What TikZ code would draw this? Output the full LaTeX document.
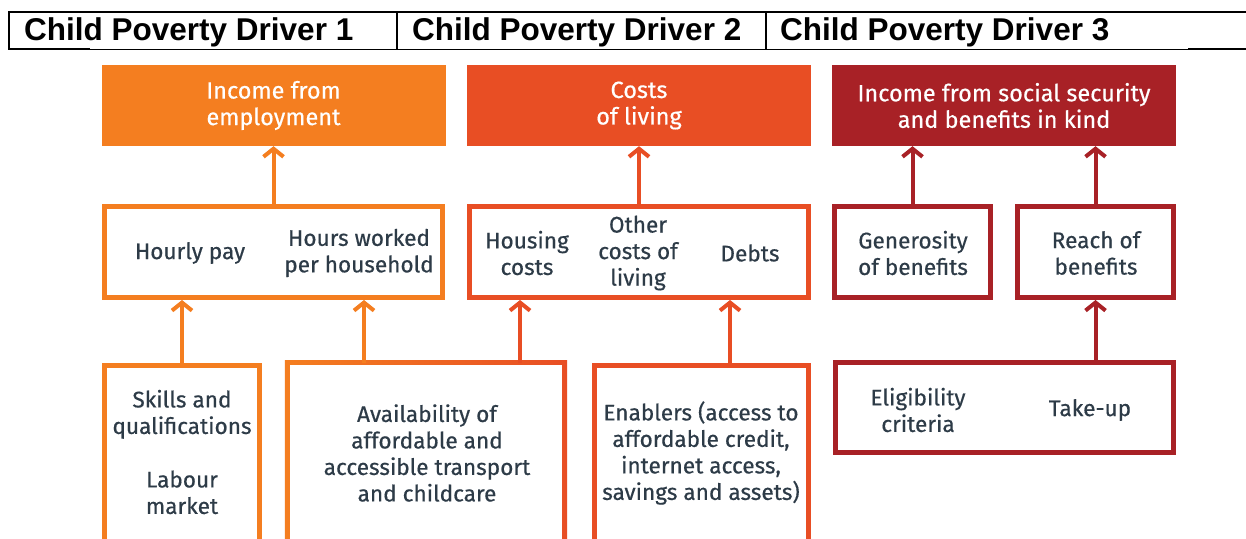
\documentclass[tikz,border=0pt]{standalone}
\usepackage{fontspec}
\setmainfont{Fira Sans}[FakeBold=0.5]
\newfontfamily\hdrfont{Liberation Sans}
\usetikzlibrary{arrows.meta}
\definecolor{cA}{HTML}{F47E20}
\definecolor{cB}{HTML}{E84E24}
\definecolor{cC}{HTML}{A82126}
\definecolor{txt}{HTML}{2D3B47}
\begin{document}
\begin{tikzpicture}[x=1pt,y=-1pt,
  hdr/.style={anchor=base west,inner sep=0pt,font=\hdrfont\bfseries\fontsize{31.5}{35}\selectfont},
  headbox/.style={minimum width=344pt,minimum height=81pt,inner sep=0pt,text=white,align=center,
     font=\fontsize{23.5}{26.5}\selectfont},
  outbox/.style={line width=5pt,inner sep=0pt},
  lbl/.style={align=center,text=txt,inner sep=0pt,font=\fontsize{22.6}{26.5}\selectfont},
  arr/.style={line width=4pt,-{Straight Barb[length=8pt,width=20pt,line width=4pt]}}
]
\useasboundingbox (0,0) rectangle (1246,538);
\clip (0,0) rectangle (1246,538);
\fill[white] (0,0) rectangle (1246,538);

% header table
\draw[line width=2pt] (9,12) -- (1246,12);
\draw[line width=2pt] (9,11) -- (9,50);
\draw[line width=1.5pt] (397,12) -- (397,49);
\draw[line width=1.5pt] (766,12) -- (766,49);
\draw[line width=1pt] (9,49) -- (1246,49);
\draw[line width=2pt] (8,49) -- (90,49);
\draw[line width=2pt] (1188,49) -- (1246,49);
\node[hdr] (h1) at (24,40) {Child Poverty Driver 1};
\node[hdr] (h2) at (412,40) {Child Poverty Driver 2};
\node[hdr] (h3) at (780,40) {Child Poverty Driver 3};

% top row
\node[headbox,fill=cA] (topA) at (273.5,105.5) {Income from\\employment};
\node[headbox,fill=cB] (topB) at (639,105.5) {Costs\\of living};
\node[headbox,fill=cC] (topC) at (1004,105.5) {Income from social security\\and benefits in kind};

% middle row
\node[outbox,draw=cA,minimum width=338pt,minimum height=91pt] (midA) at (273.5,252) {};
\node[outbox,draw=cB,minimum width=339pt,minimum height=91pt] (midB) at (639,252) {};
\node[outbox,draw=cC,minimum width=156pt,minimum height=91pt] (midC1) at (912.5,252) {};
\node[outbox,draw=cC,minimum width=156pt,minimum height=91pt] (midC2) at (1095.5,252) {};

\node[lbl] (hourly) at (190,253) {Hourly pay};
\node[lbl] (hours) at (359,253) {Hours worked\\per household};
\node[lbl] (housing) at (527,253) {Housing\\costs};
\node[lbl] (other) at (638,253) {Other\\costs of\\living};
\node[lbl] (debts) at (750,253) {Debts};
\node[lbl] (gen) at (913,253) {Generosity\\of benefits};
\node[lbl] (reach) at (1096,253) {Reach of\\benefits};

% bottom row
\node[outbox,draw=cA,minimum width=155pt,minimum height=300pt,anchor=north] (botA1) at (182,362.5) {};
\node[inner sep=0pt,minimum width=282pt,minimum height=300pt,anchor=north] (botA2) at (426,360) {};
\shade[left color=cA,right color=cB] (botA2.north west) rectangle (botA2.south east);
\fill[white] ([shift={(5pt,-5pt)}]botA2.north west) rectangle ([shift={(-5pt,5pt)}]botA2.south east);
\node[outbox,draw=cB,minimum width=214pt,minimum height=300pt,anchor=north] (botB) at (701.5,362.5) {};
\node[outbox,draw=cC,minimum width=338pt,minimum height=90pt] (botC) at (1004.5,407.5) {};

\node[lbl] (skills) at (182,452) {Skills and\\qualifications\\[27pt]Labour\\market};
\node[lbl] (avail) at (427,453) {Availability of\\affordable and\\accessible transport\\and childcare};
\node[lbl] (enab) at (701,453) {Enablers (access to\\affordable credit,\\internet access,\\savings and assets)};
\node[lbl] (elig) at (918,410) {Eligibility\\criteria};
\node[lbl] (take) at (1090,410) {Take-up};

% arrows
\draw[arr,draw=cA] (midA.north) -- (topA.south);
\draw[arr,draw=cB] (midB.north) -- (topB.south);
\draw[arr,draw=cC] (midC1.north) -- (midC1.north |- topC.south);
\draw[arr,draw=cC] (midC2.north) -- (midC2.north |- topC.south);
\draw[arr,draw=cA] (botA1.north) -- (botA1.north |- midA.south);
\draw[arr,draw=cA] ([xshift=-62pt,yshift=-2.5pt]botA2.north) -- ([xshift=-62pt]botA2.north |- midA.south);
\draw[arr,draw=cB] ([xshift=94pt,yshift=-2.5pt]botA2.north) -- ([xshift=94pt]botA2.north |- midB.south);
\draw[arr,draw=cB] ([xshift=28.5pt]botB.north) -- ([xshift=28.5pt]botB.north |- midB.south);
\draw[arr,draw=cC] (botC.north -| midC2.south) -- (midC2.south);
\end{tikzpicture}
\end{document}
